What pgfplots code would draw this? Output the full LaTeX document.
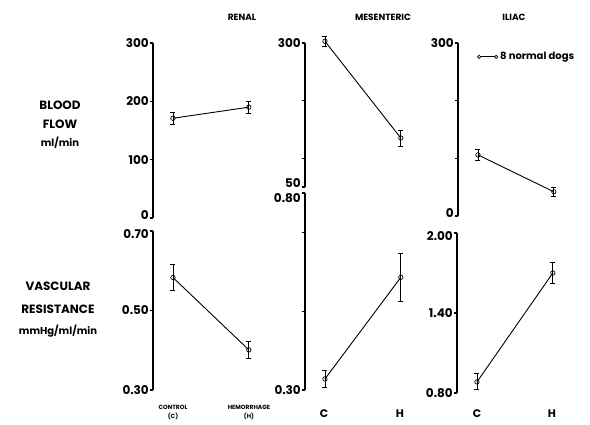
\documentclass[border=0pt]{standalone}
\usepackage{pgfplots}
\pgfplotsset{compat=1.18}
\usepackage{fontspec}
\setmainfont{Poppins}
\begin{document}
\begin{tikzpicture}[x=1pt,y=1pt]
\useasboundingbox (0,0) rectangle (590,-424);
\pgfplotsset{
 panel/.style={scale only axis, axis x line=none, axis y line=left,
   axis line style={line width=1.6pt,-}, tick align=outside, major tick length=3pt,
   every tick/.style={line width=1.2pt,black}, xmin=-0.263, xmax=1.2, width=111pt,
   anchor=south west, clip=false,
   yticklabel style={font=\fontsize{12}{14}\selectfont\bfseries, inner sep=1pt}},
 up/.style={extra y tick style={yticklabel style={yshift=#1}}},
 dat/.style={black, line width=0.9pt, mark=o, mark size=2.2pt,
   mark options={fill=white, line width=0.7pt},
   error bars/.cd, y dir=both, y explicit,
   error mark options={rotate=90, mark size=2.5pt, line width=0.9pt},
   error bar style={line width=0.9pt}}
}
% Renal flow
\begin{axis}[panel, at={(153pt,-218pt)}, height=175pt, ymin=0, ymax=300,
  ytick={100,200,300}, yticklabels={100,200,300},
  extra y ticks={0}, extra y tick labels={0}, up=3pt]
\addplot+[dat] coordinates {(0,171) +- (0,10) (1,190) +- (0,10)};
\end{axis}
% Renal resistance
\begin{axis}[panel, at={(153pt,-390pt)}, height=159pt, ymin=0.3, ymax=0.7,
  ytick={0.3,0.5}, yticklabels={0.30,0.50},
  extra y ticks={0.7}, extra y tick labels={0.70}, up=-3pt]
\addplot+[dat] coordinates {(0,0.583) +- (0,0.032) (1,0.401) +- (0,0.021)};
\end{axis}
% Mesenteric flow
\begin{axis}[panel, at={(305pt,-187pt)}, height=144pt, ymin=50, ymax=300,
  ytick={100,200,300}, yticklabels={,,300},
  extra y ticks={50}, extra y tick labels={50}, up=4pt]
\addplot+[dat] coordinates {(0,303) +- (0,9) (1,135) +- (0,14)};
\end{axis}
% Mesenteric resistance
\begin{axis}[panel, at={(305pt,-390pt)}, height=197pt, ymin=0.3, ymax=0.8,
  ytick={0.3,0.5,0.7}, yticklabels={0.30,,},
  extra y ticks={0.8}, extra y tick labels={0.80}, up=-5pt]
\addplot+[dat] coordinates {(0,0.328) +- (0,0.021) (1,0.586) +- (0,0.061)};
\end{axis}
% Iliac flow
\begin{axis}[panel, at={(458pt,-216pt)}, height=173pt, ymin=0, ymax=300,
  ytick={100,200,300}, yticklabels={,,300},
  extra y ticks={0}, extra y tick labels={0}, up=3pt,
  legend style={at={(0.17,0.92)}, anchor=west, draw=none, fill=none,
    font=\fontsize{10}{11}\selectfont\bfseries, inner sep=0pt},
  legend image code/.code={\draw[line width=0.7pt] (0pt,0pt) -- (17pt,0pt);
    \draw[line width=0.7pt, fill=white] (0pt,0pt) circle (1.7pt) (17pt,0pt) circle (1.7pt);}]
\addplot+[dat] coordinates {(0,106) +- (0,10) (1,42) +- (0,8)};
\addlegendentry{8 normal dogs}
\end{axis}
% Iliac resistance
\begin{axis}[panel, at={(457pt,-393pt)}, height=160pt, ymin=0.8, ymax=2.0,
  ytick={0.8,1.4}, yticklabels={0.80,1.40},
  extra y ticks={2.0}, extra y tick labels={2.00}, up=-3pt]
\addplot+[dat] coordinates {(0,0.883) +- (0,0.06) (1,1.70) +- (0,0.08)};
\end{axis}
% titles and labels
\node[font=\fontsize{9}{10}\selectfont\bfseries] at (242,-17) {RENAL};
\node[font=\fontsize{9}{10}\selectfont\bfseries] at (383,-17) {MESENTERIC};
\node[font=\fontsize{9}{10}\selectfont\bfseries] at (514,-17) {ILIAC};
\node[font=\fontsize{12}{14}\selectfont\bfseries] at (60,-105) {BLOOD};
\node[font=\fontsize{12}{14}\selectfont\bfseries] at (60,-124) {FLOW};
\node[font=\fontsize{10}{12}\selectfont\bfseries] at (60,-143) {ml/min};
\node[font=\fontsize{12}{14}\selectfont\bfseries] at (58,-286) {VASCULAR};
\node[font=\fontsize{12}{14}\selectfont\bfseries] at (58,-309) {RESISTANCE};
\node[font=\fontsize{10}{12}\selectfont\bfseries] at (58,-331) {mmHg/ml/min};
\node[font=\fontsize{6}{7}\selectfont\bfseries] at (173,-407) {CONTROL};
\node[font=\fontsize{6}{7}\selectfont\bfseries] at (173,-416) {(C)};
\node[font=\fontsize{6}{7}\selectfont\bfseries] at (249,-407) {HEMORRHAGE};
\node[font=\fontsize{6}{7}\selectfont\bfseries] at (249,-416) {(H)};
\node[font=\fontsize{11}{13}\selectfont\bfseries] at (324,-414) {C};
\node[font=\fontsize{11}{13}\selectfont\bfseries] at (400,-414) {H};
\node[font=\fontsize{11}{13}\selectfont\bfseries] at (477,-414) {C};
\node[font=\fontsize{11}{13}\selectfont\bfseries] at (552,-414) {H};
\end{tikzpicture}
\end{document}
